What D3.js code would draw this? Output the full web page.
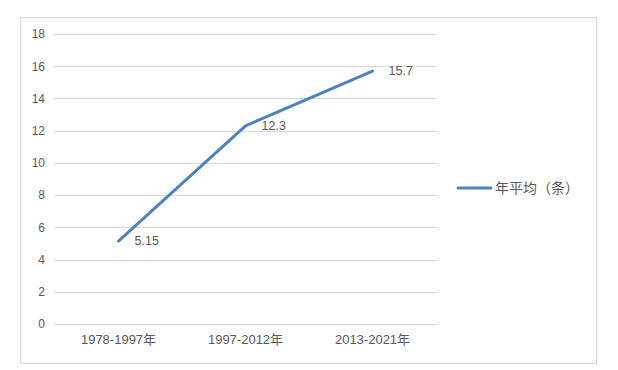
<!DOCTYPE html>
<html>
<head>
<meta charset="utf-8">
<script src="https://cdn.jsdelivr.net/npm/d3@7"></script>
<style>
  body { margin: 0; background: #fff; }
  text { font-family: "Liberation Sans", "Noto Sans CJK SC", sans-serif; fill: #595959; }
</style>
</head>
<body>
<svg width="618" height="370"></svg>
<script>
let categories = ["1978-1997年", "1997-2012年", "2013-2021年"];
let values = [5.15, 12.3, 15.7];
let yTicks = [0, 2, 4, 6, 8, 10, 12, 14, 16, 18];
let seriesName = "年平均（条）";

let svg = d3.select("svg");

// chart frame
svg.append("rect")
  .attr("x", 20.5).attr("y", 17.5)
  .attr("width", 576).attr("height", 346)
  .attr("fill", "#fff")
  .attr("stroke", "#d9d9d9");

let plotLeft = 55, plotRight = 436, plotTop = 34, plotBottom = 324;

let xScale = d3.scaleBand().domain(categories).range([plotLeft, plotRight]);
let yScale = d3.scaleLinear().domain([0, 18]).range([plotBottom, plotTop]);

// gridlines
svg.append("g")
  .selectAll("line")
  .data(yTicks)
  .join("line")
  .attr("x1", plotLeft).attr("x2", plotRight)
  .attr("y1", d => Math.round(yScale(d)) + 0.5)
  .attr("y2", d => Math.round(yScale(d)) + 0.5)
  .attr("stroke", "#d9d9d9");

// y axis labels
let yAxis = svg.append("g")
  .attr("transform", "translate(" + (plotLeft - 10) + ",0)")
  .call(d3.axisLeft(yScale).tickValues(yTicks).tickSize(0).tickPadding(0));
yAxis.select(".domain").remove();
yAxis.selectAll("text").attr("font-size", 12).style("font-family", "Liberation Sans, sans-serif").attr("fill", "#595959");

// x axis labels
let xAxis = svg.append("g")
  .attr("transform", "translate(0," + plotBottom + ")")
  .call(d3.axisBottom(xScale).tickSize(0).tickPadding(11));
xAxis.select(".domain").remove();
xAxis.selectAll("text").attr("font-size", 13).style("font-family", "Liberation Sans, Noto Sans CJK SC, sans-serif").attr("fill", "#595959");

let cx = d => xScale(d) + xScale.bandwidth() / 2;

let line = d3.line()
  .x((d, i) => cx(categories[i]))
  .y(d => yScale(d));

svg.append("path")
  .datum(values)
  .attr("d", line)
  .attr("fill", "none")
  .attr("stroke", "#4f81bd")
  .attr("stroke-width", 3)
  .attr("stroke-linecap", "round")
  .attr("stroke-linejoin", "round");

// data labels
svg.append("g")
  .selectAll("text")
  .data(values)
  .join("text")
  .attr("x", (d, i) => cx(categories[i]) + 16)
  .attr("y", d => yScale(d))
  .attr("dy", "0.35em")
  .attr("font-size", 12.5)
  .text(d => d);

// legend
svg.append("line")
  .attr("x1", 458).attr("x2", 491)
  .attr("y1", 188).attr("y2", 188)
  .attr("stroke", "#4f81bd")
  .attr("stroke-width", 3)
  .attr("stroke-linecap", "round");
svg.append("text")
  .attr("x", 495).attr("y", 188)
  .attr("dy", "0.35em")
  .attr("font-size", 14)
  .style("font-family", "Noto Sans CJK SC, sans-serif")
  .text(seriesName);
</script>
</body>
</html>
